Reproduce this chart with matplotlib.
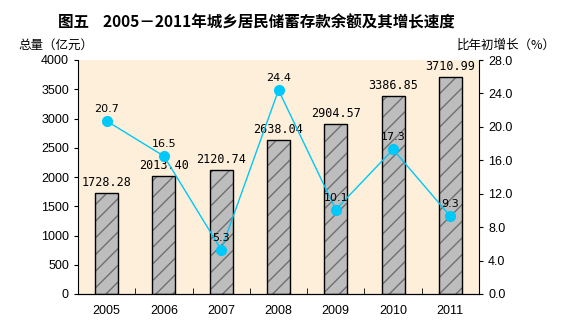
import matplotlib
matplotlib.use("Agg")
import matplotlib.pyplot as plt

plt.rcParams['font.family'] = ['Noto Sans CJK SC', 'DejaVu Sans']

years = ["2005", "2006", "2007", "2008", "2009", "2010", "2011"]
totals = [1728.28, 2013.40, 2120.74, 2638.04, 2904.57, 3386.85, 3710.99]
growth = [20.7, 16.5, 5.3, 24.4, 10.1, 17.3, 9.3]

left_ticks = [0, 500, 1000, 1500, 2000, 2500, 3000, 3500, 4000]
right_ticks = [0.0, 4.0, 8.0, 12.0, 16.0, 20.0, 24.0, 28.0]

W, H = 562, 328
fig = plt.figure(figsize=(W / 100, H / 100), dpi=100)
ax1 = fig.add_axes([78 / W, 1 - 294 / H, 401 / W, 234 / H])
ax1.set_facecolor("#fdefda")

x = list(range(len(years)))
# striped grey bars
ax1.bar(x, totals, width=0.4, color="#bdbdbd", edgecolor="#707070",
        hatch="//", linewidth=0, zorder=2)
ax1.bar(x, totals, width=0.4, fill=False, edgecolor="black",
        linewidth=1, zorder=3)
for xi, v in zip(x, totals):
    ax1.annotate("%.2f" % v, (xi, v), xytext=(0, 3), textcoords="offset points",
                 ha="center", va="bottom", fontsize=8.5,
                 family="DejaVu Sans Mono", zorder=6)

ax1.set_xlim(-0.5, len(years) - 0.5)
ax1.set_ylim(0, 4000)
ax1.set_yticks(left_ticks)
ax1.set_xticks(x)
ax1.set_xticklabels(years)
ax1.set_xticks([i + 0.5 for i in x[:-1]], minor=True)
ax1.tick_params(axis="x", which="major", length=0, pad=8)
ax1.tick_params(axis="x", which="minor", direction="in", length=4)
ax1.tick_params(axis="y", direction="out", length=3)
for lab in ax1.get_xticklabels() + ax1.get_yticklabels():
    lab.set_fontfamily("Liberation Sans")
    lab.set_fontsize(9)
ax1.spines["top"].set_visible(False)
ax1.spines["right"].set_visible(False)

ax2 = ax1.twinx()
ax2.plot(x, growth, color="#00c8f8", linewidth=1, marker="o",
         markersize=7, zorder=5)
for xi, g in zip(x, growth):
    ax2.annotate("%.1f" % g, (xi, g), xytext=(0, 5), textcoords="offset points",
                 ha="center", va="bottom", fontsize=8,
                 family="DejaVu Sans", zorder=6)
ax2.set_ylim(0, 28)
ax2.set_yticks(right_ticks)
ax2.set_yticklabels(["%.1f" % t for t in right_ticks])
ax2.tick_params(axis="y", direction="out", length=3)
for lab in ax2.get_yticklabels():
    lab.set_fontfamily("Liberation Sans")
    lab.set_fontsize(9)
ax2.spines["top"].set_visible(False)
ax2.spines["left"].set_visible(False)

fig.text(256 / W, 1 - 22 / H, "图五    2005－2011年城乡居民储蓄存款余额及其增长速度",
         ha="center", va="center", fontsize=11.2, fontweight="bold")
fig.text(18 / W, 1 - 45 / H, "总量（亿元）", ha="left", va="center", fontsize=9)
fig.text(556 / W, 1 - 45 / H, "比年初增长（%）", ha="right", va="center", fontsize=9)

fig.savefig("out.png", dpi=100)
